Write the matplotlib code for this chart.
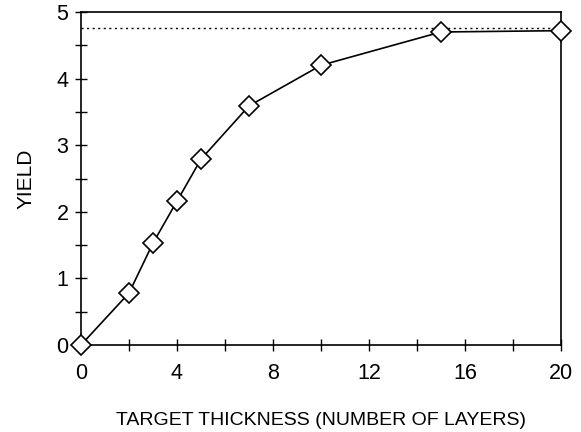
"""
Yield versus target thickness, replotted from a scanned figure.
"""

import matplotlib

matplotlib.use("Agg")
import matplotlib.pyplot as plt
from matplotlib.ticker import MultipleLocator

# Data
layers = [0, 2, 3, 4, 5, 7, 10, 15, 20]
yield_vals = [0.0, 0.78, 1.53, 2.16, 2.79, 3.59, 4.20, 4.70, 4.72]
saturation = 4.76

x_ticks = [0, 4, 8, 12, 16, 20]
y_ticks = [0, 1, 2, 3, 4, 5]

plt.rcParams["font.family"] = ["Liberation Sans", "DejaVu Sans"]

fig = plt.figure(figsize=(5.81, 4.32), dpi=100)
ax = fig.add_axes([0.1394, 0.2014, 0.8262, 0.7708])

# Saturation level (dotted)
ax.plot([0, 20], [saturation, saturation], linestyle=(0, (1.5, 2.5)),
        color="black", linewidth=1.0, zorder=2)

ax.plot(layers, yield_vals, color="black", linewidth=1.2, marker="D",
        markersize=10.5, markerfacecolor="white", markeredgecolor="black",
        markeredgewidth=1.2, clip_on=False, zorder=3)

ax.set_xlim(0, 20)
ax.set_ylim(0, 5)
ax.set_xticks(x_ticks)
ax.set_yticks(y_ticks)
ax.xaxis.set_minor_locator(MultipleLocator(2))
ax.yaxis.set_minor_locator(MultipleLocator(0.5))

ax.tick_params(which="both", direction="inout", length=8, width=1.0,
               labelsize=15.5, top=False, right=False)
ax.tick_params(axis="x", pad=9)
ax.tick_params(axis="y", pad=5)

for spine in ax.spines.values():
    spine.set_linewidth(1.2)

ax.set_xlabel("TARGET THICKNESS (NUMBER OF LAYERS)", fontsize=14,
              labelpad=20)
ax.set_ylabel("YIELD", fontsize=15, labelpad=15)

fig.savefig("out.png", dpi=100, facecolor="white")
